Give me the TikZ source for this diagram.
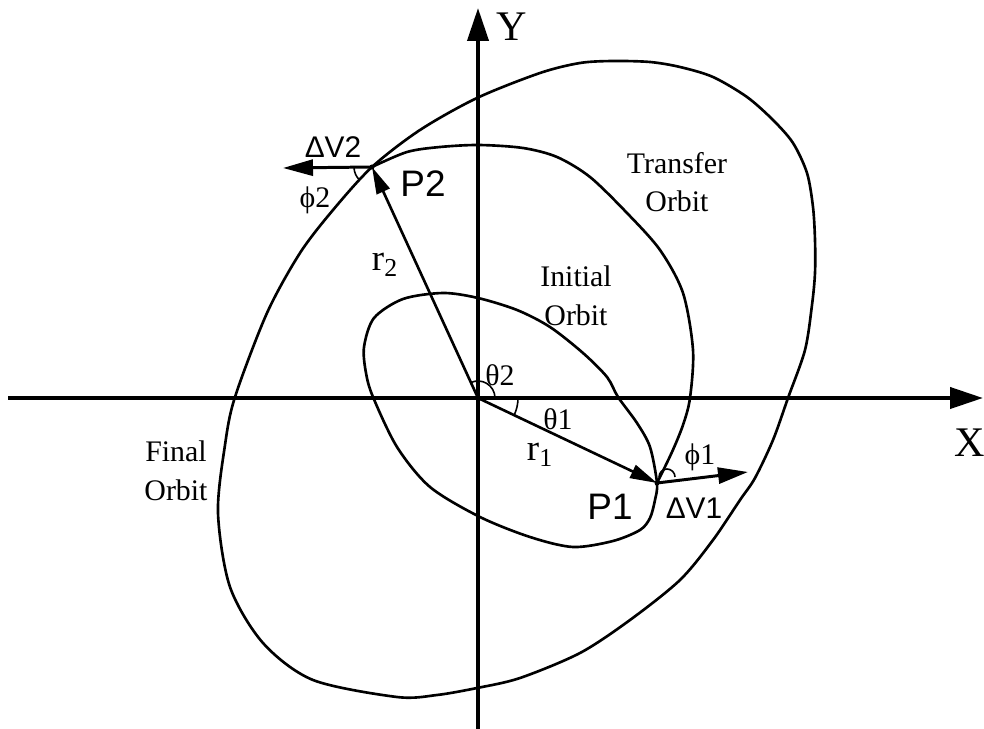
\documentclass[tikz,border=0pt]{standalone}
\usepackage{fontspec}
\setmainfont{Liberation Serif}
\newfontfamily\helv{Liberation Sans}
\usetikzlibrary{arrows.meta}

\begin{document}
\begin{tikzpicture}[
    x=0.02cm, y=-0.02cm,
    orbit/.style={line width=1.5pt},
    axis/.style={line width=2.3pt, -{Triangle[length=6.6mm, width=4.2mm]}},
    arrow/.style={line width=1.5pt, -{Triangle[length=5.4mm, width=2.8mm]}},
    dvarrow/.style={line width=1.7pt, -{Triangle[length=6mm, width=3.2mm]}},
    anglearc/.style={line width=0.9pt},
    axislbl/.style={font=\fontsize{24}{26}\selectfont, inner sep=0pt},
    orbitlbl/.style={font=\fontsize{17}{22}\selectfont, align=center, inner sep=0pt},
    pointlbl/.style={font=\helv\fontsize{21}{24}\selectfont, inner sep=0pt},
    dvlbl/.style={font=\helv\fontsize{17}{19}\selectfont, inner sep=0pt},
    greeklbl/.style={font=\fontsize{17}{19}\selectfont, inner sep=0pt},
    rlbl/.style={font=\fontsize{21}{23}\selectfont, inner sep=0pt}
]
\useasboundingbox (0,0) rectangle (984,729);

\coordinate (O) at (478,398);
\coordinate (P1) at (657,483);
\coordinate (P2) at (372,167);
\coordinate (xstart) at (8,398);
\coordinate (xend) at (983,398);
\coordinate (ystart) at (478,729);
\coordinate (yend) at (478,8);
\coordinate (dv1) at (748,472);
\coordinate (dv2) at (283,168);

% axes
\draw[axis] (xstart) -- (xend);
\draw[axis] (ystart) -- (yend);

% final orbit
\draw[orbit] plot[smooth cycle] coordinates {(372,167) (420,130) (477,98) (540,73) (580,63) (613,61)
    (650,62) (680,67) (713,77) (747,97) (773,120) (793,143) (807,173) (813,207) (815,240)
    (815,273) (812,305) (805,350) (788,398) (773,440) (755,478) (740,500) (713,540) (680,580)
    (630,620) (580,653) (520,678) (477,688) (437,695) (397,697) (313,680) (263,643) (230,587)
    (218,513) (225,445) (235,397) (267,313) (300,253) (333,210)};

% transfer orbit
\draw[orbit] plot[smooth] coordinates {(372,167) (407,152) (440,147) (479,145) (523,148) (557,157)
    (590,177) (627,213) (660,250) (683,293) (693,350) (690,398) (683,425) (672,452) (657,483)};

% initial orbit
\draw[orbit] plot[smooth cycle] coordinates {(657,483) (655,500) (650,518) (640,530) (613,541)
    (573,547) (530,537) (480,517) (430,487) (397,447) (373,397) (366,373) (364,347) (374,318)
    (403,299) (443,293) (478,298) (517,310) (550,327) (583,353) (607,377) (618,397) (637,423)
    (650,447)};

% radius vectors and impulses
\draw[arrow] (O) -- (P1);
\draw[arrow] (O) -- (P2);
\draw[dvarrow] (P1) -- (dv1);
\draw[dvarrow] (P2) -- (dv2);
\fill (P1) circle[radius=2.5];
\fill (P2) circle[radius=2.5];

% angles
\draw[anglearc] ([shift={(0:40)}]O) arc[start angle=0, end angle=25.4, radius=40];
\draw[anglearc] ([shift={(0:17)}]O) arc[start angle=0, end angle=-114.7, radius=17];
\draw[anglearc] ([shift={(2,-6)}]P1) arc[start angle=180, end angle=360, radius=8];
\draw[anglearc] ([shift={(135:18)}]P2) arc[start angle=135, end angle=180, radius=18];

% labels
\node[axislbl] (ylbl) at (512,27) {Y};
\node[axislbl] (xlbl) at (970,443) {X};
\node[orbitlbl] (transfer) at (677,182) {Transfer\\Orbit};
\node[orbitlbl] (initial) at (576,296) {Initial\\Orbit};
\node[orbitlbl] (final) at (176,471) {Final\\Orbit};
\node[pointlbl] (p2lbl) at (423,184) {P2};
\node[pointlbl] (p1lbl) at (610,507) {P1};
\node[dvlbl] (dv2lbl) at (333,147) {ΔV2};
\node[dvlbl] (dv1lbl) at (694,508) {ΔV1};
\node[greeklbl] (phi2) at (315,200) {ϕ2};
\node[greeklbl] (phi1) at (700,457) {ϕ1};
\node[greeklbl] (th1) at (558,419) {θ1};
\node[greeklbl] (th2) at (500,375) {θ2};
\node[rlbl] (r1lbl) at (540,455) {r\textsubscript{1}};
\node[rlbl] (r2lbl) at (385,265) {r\textsubscript{2}};

\end{tikzpicture}
\end{document}
